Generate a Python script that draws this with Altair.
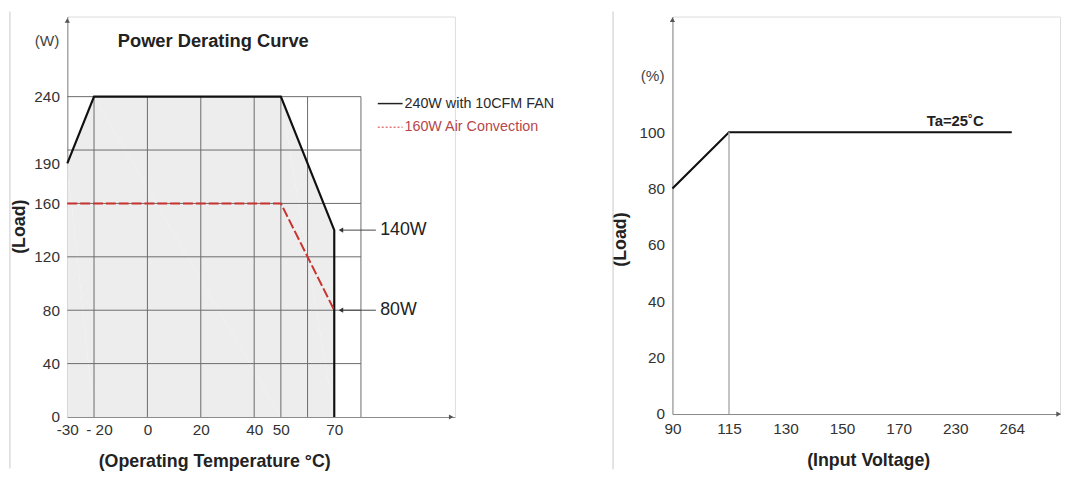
import json
import altair as alt
import pandas as pd

FONT = "Liberation Sans"

# ---------------- left panel data ----------------
temp_fan = [-30, -20, 50, 70, 70]
load_fan = [190, 240, 240, 140, 0]
temp_conv = [-30, 50, 70]
load_conv = [160, 160, 80]
grid_temp = [-20, 0, 20, 40, 50, 60, 80]
grid_load = [40, 80, 120, 160, 200, 240]
temp_ticks = [-30, -20, 0, 20, 40, 50, 70]
load_ticks = [0, 40, 80, 120, 160, 190, 240]
legend_labels = ["240W with 10CFM FAN", "160W Air Convection"]
callout_labels = ["140W", "80W"]
callout_loads = [140, 80]

# ---------------- right panel data ----------------
volt_labels = ["90", "115", "130", "150", "170", "230", "264"]
volt_line = ["90", "115", "264"]
volt_load = [80, 100, 100]
pct_ticks = [0, 20, 40, 60, 80, 100]

# ---------------- left panel ----------------
xT = alt.Scale(domain=[-30, 115.2], nice=False, zero=False)
yW = alt.Scale(domain=[0, 300], nice=False, zero=True)

axT = alt.Axis(values=temp_ticks, grid=False, ticks=False, domainColor="#8a8a8a",
               labelFontSize=15.5, labelColor="#333", labelPadding=6, labelFlush=False,
               labelOverlap=False,
               labelOffset={"condition": {"test": "datum.value == -20", "value": 5}, "value": 0},
               labelExpr="datum.value == -20 ? '- 20' : (datum.value < 0 ? '-' + abs(datum.value) : datum.label)",
               title="(Operating Temperature \u00b0C)", titleFontSize=18, titleFontWeight="bold",
               titleColor="#222", titleX=148.5, titleY=45, titleBaseline="middle")
axW = alt.Axis(values=load_ticks, grid=False, ticks=False, domainColor="#8a8a8a",
               labelFontSize=15.5, labelColor="#333", labelPadding=8, labelOverlap=False,
               title="(Load)", titleFontSize=18, titleFontWeight="bold", titleColor="#222",
               titleX=-48, titleY=212, titleBaseline="middle")

fan = pd.DataFrame({"t": temp_fan, "w": load_fan, "i": list(range(len(temp_fan)))})
conv = pd.DataFrame({"t": temp_conv, "w": load_conv, "i": list(range(len(temp_conv)))})

fill = alt.Chart(fan).mark_area(color="#ededed").encode(
    x=alt.X("t:Q", scale=xT, axis=axT), y=alt.Y("w:Q", scale=yW, axis=axW),
    order=alt.Order("i:Q"))

gx = pd.DataFrame({"t": grid_temp, "lo": 0, "hi": max(grid_load)})
gy = pd.DataFrame({"w": grid_load, "lo": min(temp_ticks), "hi": max(grid_temp)})
vgrid = alt.Chart(gx).mark_rule(color="#6a6a6a", strokeWidth=1).encode(
    x="t:Q", y="lo:Q", y2="hi:Q")
hgrid = alt.Chart(gy).mark_rule(color="#6a6a6a", strokeWidth=1).encode(
    y="w:Q", x="lo:Q", x2="hi:Q")

fan_line = alt.Chart(fan).mark_line(color="#111", strokeWidth=2.2).encode(
    x="t:Q", y="w:Q", order=alt.Order("i:Q"))
conv_line = alt.Chart(conv).mark_line(color="#c8322f", strokeWidth=2, strokeDash=[10, 3]).encode(
    x="t:Q", y="w:Q", order=alt.Order("i:Q"))

# legend (manual)
leg = pd.DataFrame({"label": legend_labels, "w": [234.8, 217.0], "x0": 86.3, "x1": 95.6,
                    "xt": 96.3, "kind": ["fan", "conv"]})
leg_fan = alt.Chart(leg).transform_filter("datum.kind == 'fan'").mark_rule(
    color="#222", strokeWidth=1.5).encode(x="x0:Q", x2="x1:Q", y="w:Q")
leg_conv = alt.Chart(leg).transform_filter("datum.kind == 'conv'").mark_rule(
    color="#e07a7a", strokeWidth=1.5, strokeDash=[2, 2]).encode(x="x0:Q", x2="x1:Q", y="w:Q")
leg_txt = alt.Chart(leg).mark_text(align="left", baseline="middle", fontSize=14.5, font=FONT).encode(
    x="xt:Q", y="w:Q", text="label:N",
    color=alt.Color("kind:N", scale=alt.Scale(domain=["fan", "conv"], range=["#2a2a2a", "#b5474b"]),
                    legend=None))

# callouts
co = pd.DataFrame({"label": callout_labels, "w": callout_loads, "x0": 72.5, "x1": 85.6, "xt": 87.2})
co_rule = alt.Chart(co).mark_rule(color="#444", strokeWidth=1).encode(x="x0:Q", x2="x1:Q", y="w:Q")
co_head = alt.Chart(co).mark_point(shape="triangle-left", filled=True, size=28, color="#333",
                                   opacity=1).encode(x="x0:Q", y="w:Q")
co_txt = alt.Chart(co).mark_text(align="left", baseline="middle", fontSize=18, font=FONT,
                                 color="#222").encode(x="xt:Q", y="w:Q", text="label:N")

# axis arrows, labels and frame line
arr_up_l = alt.Chart(pd.DataFrame({"t": [-30], "w": [297]})).mark_point(
    shape="triangle-up", filled=True, size=28, color="#555", opacity=1).encode(x="t:Q", y="w:Q")
arr_rt_l = alt.Chart(pd.DataFrame({"t": [113.8], "w": [0]})).mark_point(
    shape="triangle-right", filled=True, size=28, color="#555", opacity=1).encode(x="t:Q", y="w:Q")
unit_l = alt.Chart(pd.DataFrame({"t": [-30], "w": [281.5], "txt": ["(W)"]})).mark_text(
    align="right", baseline="middle", dx=-8, fontSize=15.5, color="#444", font=FONT).encode(
    x="t:Q", y="w:Q", text="txt:N")
title_l = alt.Chart(pd.DataFrame({"t": [-11.1], "w": [281.5], "txt": ["Power Derating Curve"]})).mark_text(
    align="left", baseline="middle", fontSize=18.5, fontWeight="bold", color="#222", font=FONT).encode(
    x="t:Q", y="w:Q", text="txt:N")
frame_l = alt.Chart(pd.DataFrame({"t": [-51.5], "a": [-38.5], "b": [303.7]})).mark_rule(
    color="#c8c8c8", strokeWidth=1).encode(x="t:Q", y="a:Q", y2="b:Q")

left = alt.layer(fill, vgrid, hgrid, fan_line, conv_line, leg_fan, leg_conv, leg_txt,
                 co_rule, co_head, co_txt, arr_up_l, arr_rt_l, unit_l, title_l, frame_l).properties(
    width=392, height=405)

# ---------------- right panel ----------------
xV = alt.Scale(domain=[0, 392 / 57.2], nice=False, zero=False)
yP = alt.Scale(domain=[0, 402 / 2.85], nice=False, zero=True)
lab_arr = json.dumps(volt_labels).replace('"', "'")
axV = alt.Axis(values=list(range(len(volt_labels))), grid=False, ticks=False, domainColor="#8a8a8a",
               labelFontSize=15.5, labelColor="#333", labelPadding=8, labelFlush=False,
               labelOverlap=False, labelExpr=f"{lab_arr}[datum.value]",
               title="(Input Voltage)", titleFontSize=18, titleFontWeight="bold", titleColor="#222",
               titleX=198, titleY=47, titleBaseline="middle")
axP = alt.Axis(values=pct_ticks, grid=False, ticks=False, domainColor="#8a8a8a",
               labelFontSize=15.5, labelColor="#333", labelPadding=8, labelOverlap=False,
               title="(Load)", titleFontSize=18, titleFontWeight="bold", titleColor="#222",
               titleX=-52, titleY=225, titleBaseline="middle")

vl = pd.DataFrame({"v": [volt_labels.index(v) for v in volt_line], "p": volt_load})
vl["lo"] = 0
v_line = alt.Chart(vl).mark_line(color="#111", strokeWidth=2.2).encode(
    x=alt.X("v:Q", scale=xV, axis=axV), y=alt.Y("p:Q", scale=yP, axis=axP))
v_rule = alt.Chart(vl.iloc[[1]]).mark_rule(color="#b0b0b0", strokeWidth=1.5).encode(
    x="v:Q", y="lo:Q", y2="p:Q")
ta = alt.Chart(pd.DataFrame({"v": [volt_labels.index("230")], "p": [100], "txt": ["Ta=25\u02daC"]})).mark_text(
    baseline="middle", dy=-11, fontSize=15, fontWeight="bold", color="#222", font=FONT).encode(
    x="v:Q", y="p:Q", text="txt:N")
unit_r = alt.Chart(pd.DataFrame({"v": [0], "p": [120], "txt": ["(%)"]})).mark_text(
    align="right", baseline="middle", dx=-8, fontSize=15.5, color="#444", font=FONT).encode(
    x="v:Q", y="p:Q", text="txt:N")
arr_up_r = alt.Chart(pd.DataFrame({"v": [0], "p": [402 / 2.85 - 1.1]})).mark_point(
    shape="triangle-up", filled=True, size=28, color="#555", opacity=1).encode(x="v:Q", y="p:Q")
arr_rt_r = alt.Chart(pd.DataFrame({"v": [392 / 57.2 - 0.025], "p": [0]})).mark_point(
    shape="triangle-right", filled=True, size=28, color="#555", opacity=1).encode(x="v:Q", y="p:Q")
frame_r = alt.Chart(pd.DataFrame({"v": [-1.05], "a": [-19.6], "b": [142.8]})).mark_rule(
    color="#c8c8c8", strokeWidth=1).encode(x="v:Q", y="a:Q", y2="b:Q")

right = alt.layer(v_line, v_rule, ta, unit_r, arr_up_r, arr_rt_r, frame_r).properties(
    width=392, height=402)

chart = alt.hconcat(left, right, spacing=220, bounds="flush").properties(
    padding=0
).configure_view(stroke=None).configure(font=FONT)

chart.save("out.html", embed_options={"renderer": "svg", "actions": False})
